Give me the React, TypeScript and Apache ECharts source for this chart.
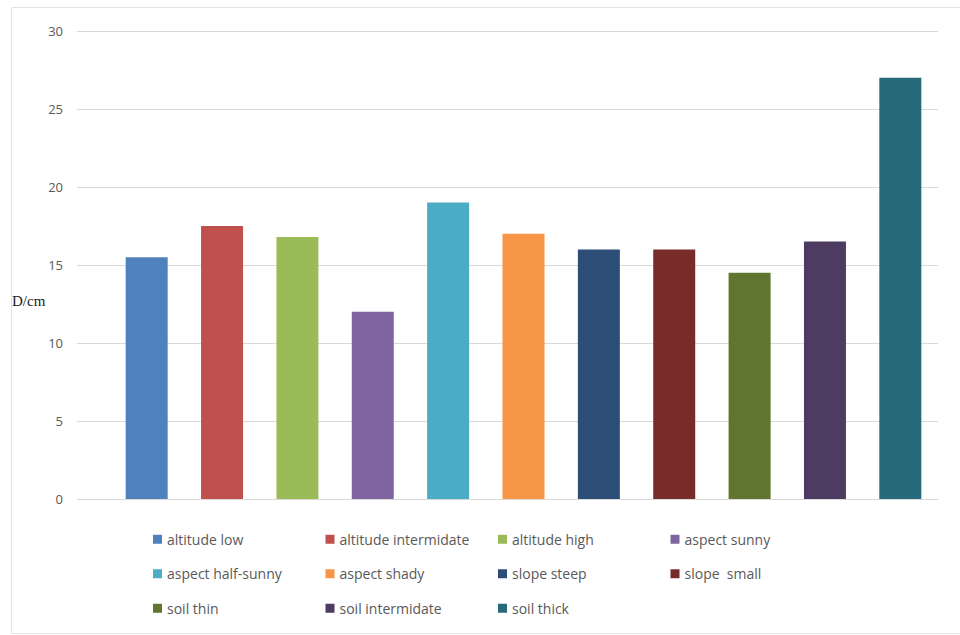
import React, { useEffect, useRef } from "react";
import * as echarts from "echarts";

const categories = [
  "altitude low",
  "altitude intermidate",
  "altitude high",
  "aspect sunny",
  "aspect half-sunny",
  "aspect shady",
  "slope steep",
  "slope  small",
  "soil thin",
  "soil intermidate",
  "soil thick",
];
const values = [15.5, 17.5, 16.8, 12, 19, 17, 16, 16, 14.5, 16.5, 27];
const colors = [
  "#4F81BD",
  "#C0504D",
  "#9BBB59",
  "#8064A2",
  "#4BACC6",
  "#F79646",
  "#2C4D75",
  "#772C2A",
  "#5F7530",
  "#4D3B62",
  "#276A7C",
];
const yTicks = { min: 0, max: 30, interval: 5 };
const yAxisTitle = "D/cm";

export default function App() {
  const ref = useRef<HTMLDivElement>(null);
  useEffect(() => {
    document.body.style.margin = "0";
    if (!ref.current) return;
    const chart = echarts.init(ref.current, undefined, { renderer: "svg" });
    const series = categories.map((name, i) => ({
      name,
      type: "bar",
      xAxisIndex: 1,
      yAxisIndex: 1,
      barWidth: 42,
      barGap: "-100%",
      itemStyle: { color: colors[i] },
      data: categories.map((_, j) => (j === i ? values[i] : "-")),
    }));
    chart.setOption({
      animation: false,
      backgroundColor: "#ffffff",
      grid: [
        { left: 77, right: 22, top: 31, bottom: 136 },
        { left: 109, right: 22, top: 31, bottom: 136 },
      ],
      xAxis: [
        { type: "value", gridIndex: 0, min: 0, max: 1, show: false },
        { type: "category", gridIndex: 1, data: categories, show: false },
      ],
      yAxis: [
        {
          type: "value",
          gridIndex: 0,
          min: yTicks.min,
          max: yTicks.max,
          interval: yTicks.interval,
          axisLine: { show: false },
          axisTick: { show: false },
          splitLine: { lineStyle: { color: "#d9d9d9", width: 1 } },
          axisLabel: {
            color: "#595959",
            fontSize: 13,
            fontFamily: "Open Sans",
            margin: 14,
          },
        },
        {
          type: "value",
          gridIndex: 1,
          min: yTicks.min,
          max: yTicks.max,
          interval: yTicks.interval,
          show: false,
          splitLine: { show: false },
        },
      ],
      legend: {
        left: 148,
        top: 517,
        width: 710,
        itemWidth: 9,
        itemHeight: 9,
        itemGap: 0,
        itemTextGap: 6,
        icon: "rect",
        data: categories,
        textStyle: {
          color: "#595959",
          fontSize: 14,
          fontFamily: "Open Sans",
          width: 158.5,
          lineHeight: 34.5,
        },
      },
      graphic: [
        {
          type: "rect",
          shape: { x: 11.5, y: 7.5, width: 960, height: 626 },
          style: { fill: "none", stroke: "#e3e3e3", lineWidth: 1 },
          silent: true,
        },
        {
          type: "text",
          x: 12,
          y: 301,
          style: {
            text: yAxisTitle,
            fill: "#222222",
            font: '15px "Liberation Serif", "DejaVu Serif", serif',
            verticalAlign: "middle",
          },
        },
      ],
      series,
    });
    return () => chart.dispose();
  }, []);
  return <div ref={ref} style={{ width: 960, height: 635 }} />;
}
